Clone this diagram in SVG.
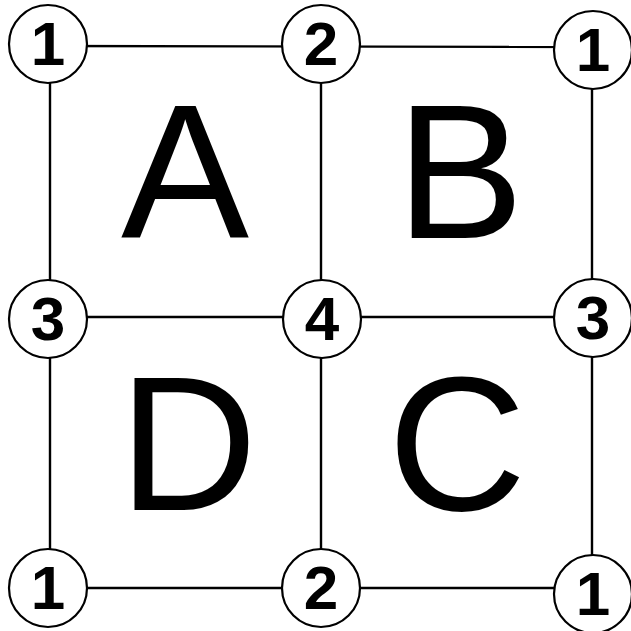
<svg xmlns="http://www.w3.org/2000/svg" width="631" height="631" viewBox="0 0 631 631">
<style>
.edge{stroke:#000;stroke-width:2.4;fill:none}
.node circle{fill:#fff;stroke:#000;stroke-width:2.2}
.node text{font-family:"Liberation Sans",Arial,sans-serif;font-weight:bold;font-size:62px;text-anchor:middle;fill:#000}
.big{font-family:"Liberation Sans",Arial,sans-serif;font-size:192px;text-anchor:middle;fill:#000}
</style>
<rect width="631" height="631" fill="#fff"/>
<g id="connectors">
<line class="edge" x1="48" y1="46" x2="593" y2="47"/>
<line class="edge" x1="48" y1="317" x2="593" y2="317"/>
<line class="edge" x1="48" y1="588" x2="593" y2="588"/>
<line class="edge" x1="50" y1="44" x2="50" y2="588"/>
<line class="edge" x1="321" y1="44" x2="321" y2="588"/>
<line class="edge" x1="592" y1="50" x2="592" y2="594"/>
</g>
<g id="labels">
<text class="big" x="185" y="238">A</text>
<text class="big" x="460" y="238">B</text>
<text class="big" x="188" y="510">D</text>
<text class="big" x="457" y="510">C</text>
</g>
<g id="n1a" class="node"><circle cx="48" cy="44" r="39"/><text x="48" y="65">1</text></g>
<g id="n2a" class="node"><circle cx="321" cy="44" r="39"/><text x="321" y="65">2</text></g>
<g id="n1b" class="node"><circle cx="593" cy="50" r="39"/><text x="593" y="71">1</text></g>
<g id="n3a" class="node"><circle cx="48" cy="319" r="39"/><text x="48" y="340">3</text></g>
<g id="n4" class="node"><circle cx="322" cy="319" r="39"/><text x="322" y="340">4</text></g>
<g id="n3b" class="node"><circle cx="593" cy="318" r="39"/><text x="593" y="339">3</text></g>
<g id="n1c" class="node"><circle cx="48" cy="588" r="39"/><text x="48" y="609">1</text></g>
<g id="n2b" class="node"><circle cx="321" cy="588" r="39"/><text x="321" y="609">2</text></g>
<g id="n1d" class="node"><circle cx="593" cy="594" r="39"/><text x="593" y="615">1</text></g>
</svg>
